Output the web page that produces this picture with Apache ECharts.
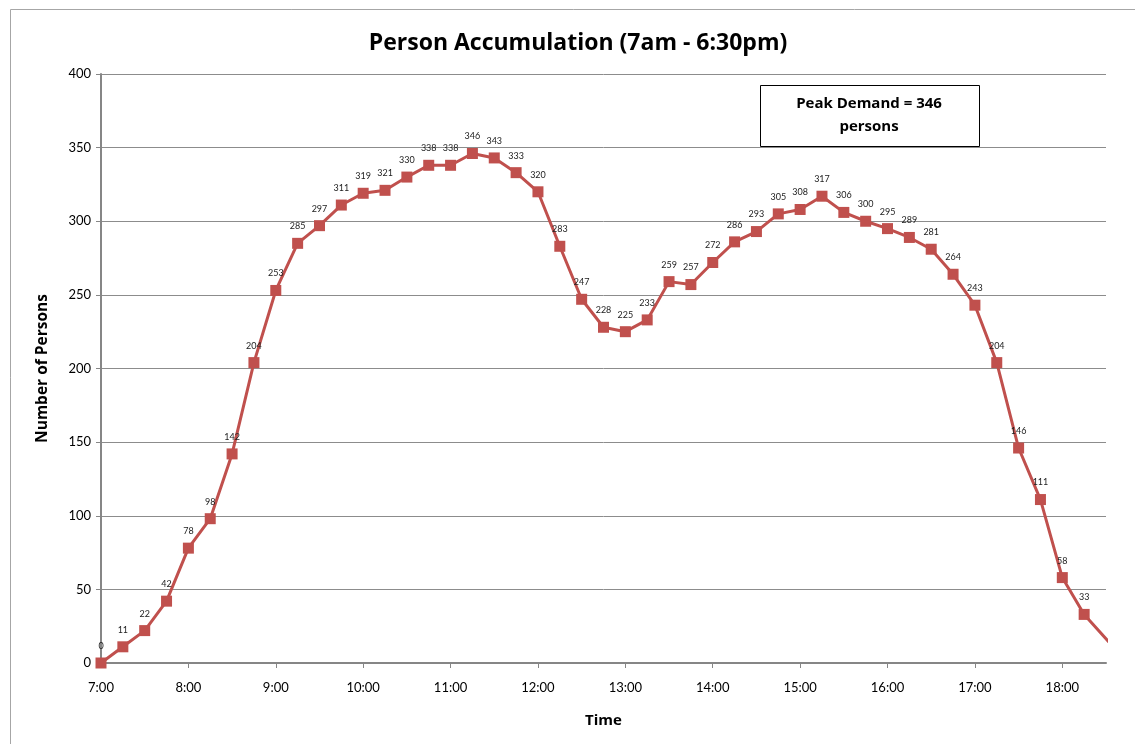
<!DOCTYPE html>
<html>
<head>
<meta charset="utf-8">
<script src="https://cdn.jsdelivr.net/npm/echarts@6/dist/echarts.min.js"></script>
<style>html,body{margin:0;padding:0;background:#fff;}#c{width:1135px;height:744px;}</style>
</head>
<body>
<div id="c"></div>
<script>
var times = ["7:00","7:15","7:30","7:45","8:00","8:15","8:30","8:45","9:00","9:15","9:30","9:45",
  "10:00","10:15","10:30","10:45","11:00","11:15","11:30","11:45","12:00","12:15","12:30","12:45",
  "13:00","13:15","13:30","13:45","14:00","14:15","14:30","14:45","15:00","15:15","15:30","15:45",
  "16:00","16:15","16:30","16:45","17:00","17:15","17:30","17:45","18:00","18:15","18:45"];
var persons = [0,11,22,42,78,98,142,204,253,285,297,311,
  319,321,330,338,338,346,343,333,320,283,247,228,
  225,233,259,257,272,286,293,305,308,317,306,300,
  295,289,281,264,243,204,146,111,58,33,0];
var hourTicks = [7,8,9,10,11,12,13,14,15,16,17,18];
var yTicks = [0,50,100,150,200,250,300,350,400];

function toHours(t){ var p = t.split(':'); return (+p[0]) + (+p[1])/60; }
var seriesData = times.map(function(t,i){ return [toHours(t), persons[i]]; });

var font = 'Lato, "Open Sans", sans-serif';
var bold = '"Open Sans", Lato, sans-serif';
var chart = echarts.init(document.getElementById('c'));
chart.setOption({
  animation: false,
  backgroundColor: '#fff',
  title: {
    text: 'Person Accumulation (7am - 6:30pm)',
    left: 573, textAlign: 'center', top: 27,
    textStyle: { fontFamily: bold, fontSize: 23, fontWeight: 'bold', color: '#000' }
  },
  grid: { left: 101, right: 29, top: 74, bottom: 81 },
  xAxis: {
    type: 'value', min: 7, max: 18.5, interval: 1,
    name: 'Time', nameLocation: 'middle', nameGap: 50,
    nameTextStyle: { fontFamily: bold, fontSize: 15, fontWeight: 'bold', color: '#000' },
    axisLine: { show: true, onZero: false, lineStyle: { color: '#868686', width: 2 } },
    axisTick: { show: true, inside: false, length: 5, customValues: hourTicks, lineStyle: { color: '#868686' } },
    axisLabel: { customValues: hourTicks, margin: 18, fontFamily: font, fontSize: 13, color: '#000',
      formatter: function(v){ return Math.round(v) + ':00'; } },
    splitLine: { show: false }
  },
  yAxis: {
    type: 'value', min: 0, max: 400, interval: 50,
    name: 'Number of Persons', nameLocation: 'middle', nameGap: 50, nameRotate: 90,
    nameTextStyle: { fontFamily: bold, fontSize: 15.5, fontWeight: 'bold', color: '#000' },
    axisLine: { show: true, lineStyle: { color: '#868686', width: 2 } },
    axisTick: { show: true, length: 5, lineStyle: { color: '#868686' } },
    axisLabel: { customValues: yTicks, margin: 10, fontFamily: font, fontSize: 13, color: '#000' },
    splitLine: { show: true, lineStyle: { color: '#8c8c8c', width: 1 } }
  },
  series: [{
    type: 'line',
    data: seriesData,
    clip: true,
    symbol: 'rect', symbolSize: 11,
    lineStyle: { color: '#C0504D', width: 3 },
    itemStyle: { color: '#C0504D' },
    label: { show: true, position: 'top', distance: 7, fontFamily: font, fontSize: 9, color: '#222' },
    z: 3
  }],
  graphic: [
    { type: 'rect', shape: { x: 10.5, y: 9.5, width: 1130, height: 760 },
      style: { fill: 'none', stroke: '#a6a6a6', lineWidth: 1 }, silent: true, z: -1 },
    { type: 'rect', shape: { x: 760.5, y: 85.5, width: 219, height: 61 },
      style: { fill: '#fff', stroke: '#000', lineWidth: 1 }, z: 10 },
    { type: 'text', x: 869, y: 104, z: 11,
      style: { text: 'Peak Demand = 346', fontFamily: bold, fontSize: 15, fontWeight: 'bold', fill: '#000', align: 'center', verticalAlign: 'middle' } },
    { type: 'text', x: 869, y: 127, z: 11,
      style: { text: 'persons', fontFamily: bold, fontSize: 15, fontWeight: 'bold', fill: '#000', align: 'center', verticalAlign: 'middle' } }
  ]
});
</script>
</body>
</html>
